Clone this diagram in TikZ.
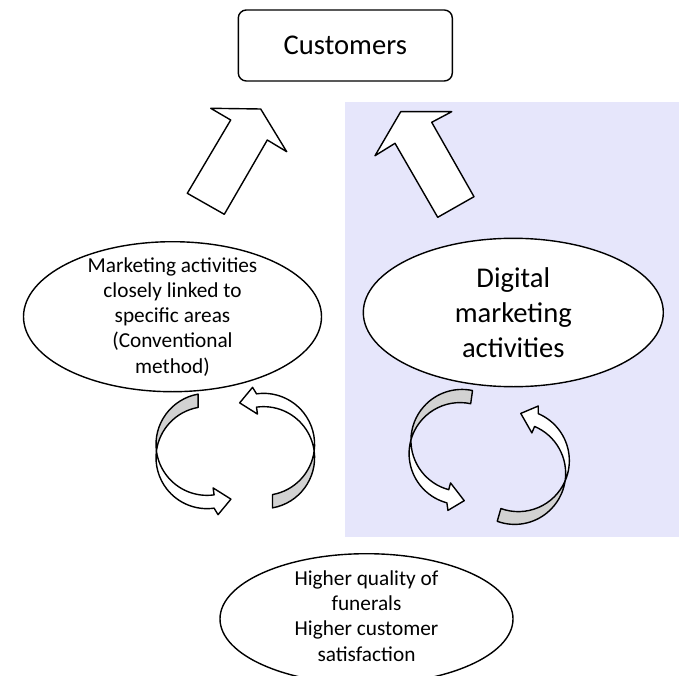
\documentclass[tikz,border=0pt]{standalone}
\usepackage{fontspec}
\setmainfont{Carlito}
\usetikzlibrary{shapes.geometric,calc}
\definecolor{panelblue}{RGB}{230,230,251}
\definecolor{ribbongray}{RGB}{210,210,210}
\newcommand\smalltxt{\fontsize{21.3}{25.3}\selectfont}
\newcommand\bigtxt{\fontsize{28.6}{35}\selectfont}
\newcommand\loopr{51}
\newcommand\bandh{6.65}
\newcommand\twistd{7.49}
% twisted loop arrow: centre, rotation, start angle, end angle
\newcommand\twistarrow[4]{%
  \begin{scope}[shift={#1}, rotate=#2]
    \draw [backface] ($(0,\bandh)+(#3:\loopr)$) arc [start angle=#3, end angle=180+\twistd, radius=\loopr]
      arc [start angle=180-\twistd, end angle=#3, radius=\loopr] -- cycle;
    \draw [frontface] ($(0,\bandh)+({180+\twistd}:\loopr)$) arc [start angle=180+\twistd, end angle=#4, radius=\loopr]
      -- ($(0,\bandh)+(#4:\loopr)+({#4+180}:7)$)
      -- ($(#4:\loopr)+({#4+90}:17)$)
      -- ($(0,-\bandh)+(#4:\loopr)+(#4:7)+({#4+90}:3)$)
      -- ($(0,-\bandh)+(#4:\loopr)$)
      arc [start angle=#4, end angle=180-\twistd, radius=\loopr] -- cycle;
  \end{scope}}

\begin{document}
\begin{tikzpicture}[x=1pt, y=1pt, line width=1.4pt, line join=round,
  bubble/.style={draw, ellipse, fill=white, inner sep=0pt},
  blockarrow/.style={draw, fill=white},
  backface/.style={draw, fill=ribbongray},
  frontface/.style={draw, fill=white}]
\useasboundingbox (0,0) rectangle (679,-676);
\fill [panelblue] (345,-102.3) rectangle (679,-537);

\node [draw, fill=white, rounded corners=8pt, minimum width=214pt, minimum height=71pt, font=\bigtxt] (cust) at (345.3,-45.5) {Customers};

\node [bubble, minimum width=298pt, minimum height=150pt] (conv) at (172.5,-316.7) {};
\node [align=center, font=\smalltxt] (convtext) at (conv) {Marketing activities\\closely linked to\\specific areas\\(Conventional\\method)};
\node [bubble, minimum width=300pt, minimum height=148.4pt] (digi) at (513.3,-312.5) {};
\node [align=center, font=\bigtxt] (digitext) at (digi) {Digital\\marketing\\activities};
\node [bubble, minimum width=293pt, minimum height=130.4pt] (qual) at (366.5,-618.9) {};
\node [align=center, font=\smalltxt] (qualtext) at (366.5,-616) {Higher quality of\\funerals\\Higher customer\\satisfaction};

\draw [blockarrow] (187.3,-193.3) -- (230.7,-120) -- (210.7,-108.3) -- (260.7,-109) -- (286.7,-151.7) -- (267.3,-140) -- (224.3,-214.3) -- cycle;
\draw [blockarrow] (437.7,-217.3) -- (395,-143.3) -- (375,-155.7) -- (400.7,-111.7) -- (451.7,-111.7) -- (431.7,-122.3) -- (474,-196.7) -- cycle;

\twistarrow{(207,-451)}{0}{100}{278}
\twistarrow{(263.6,-451)}{180}{100}{278}
\twistarrow{(461,-447)}{-8}{86}{263}
\twistarrow{(516.5,-467)}{164}{86}{263}
\end{tikzpicture}
\end{document}
